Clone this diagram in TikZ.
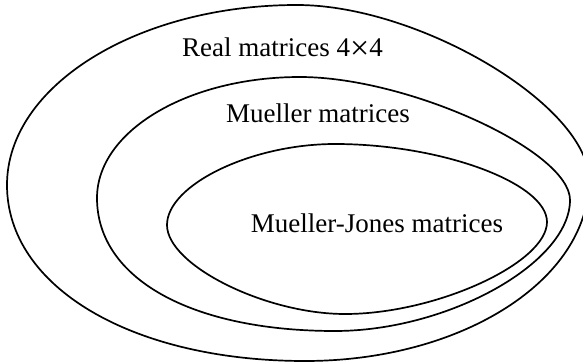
\documentclass[tikz,border=0pt]{standalone}
\usepackage{fontspec}
\setmainfont{Liberation Serif}
\usepackage{tikz}
\usetikzlibrary{positioning,calc}

\newcommand{\bigtimes}{\raisebox{-1.3pt}{\fontsize{17}{17}\selectfont ×}}

\begin{document}
\begin{tikzpicture}[
            x=0.5pt, y=-0.5pt,
            every node/.style={font=\fontsize{13.5}{16}\selectfont},
            setline/.style={line width=0.85pt},
            lbl/.style={anchor=base, inner sep=0pt},
        ]
            \useasboundingbox (0,0) rectangle (583,363);
            % outer set
            \draw[setline] (7,185) .. controls (7,86) and (137,5) .. (297,5)
                .. controls (420,5) and (589,106) .. (589,180)
                .. controls (589,280) and (462,361) .. (305,361)
                .. controls (132,361) and (7,287) .. (7,185) -- cycle;
            % middle set
            \draw[setline] (97,198) .. controls (97,131) and (188,77) .. (300,77)
                .. controls (408,77) and (570,151) .. (570,200)
                .. controls (570,263) and (448,331) .. (335,331)
                .. controls (192,331) and (97,279) .. (97,198) -- cycle;
            % inner set
            \draw[setline] (167,225) .. controls (167,185) and (251,144) .. (335,144)
                .. controls (441,144) and (547,183) .. (547,222)
                .. controls (547,263) and (436,314) .. (345,314)
                .. controls (265,314) and (167,265) .. (167,225) -- cycle;
            % labels
            \node[lbl] (real) at (282.5,57) {Real matrices 4\bigtimes4};
            \node[lbl] (mueller) at (318,123) {Mueller matrices};
            \node[lbl] (jones) at (377,233) {Mueller-Jones matrices};
        \end{tikzpicture}
\end{document}
